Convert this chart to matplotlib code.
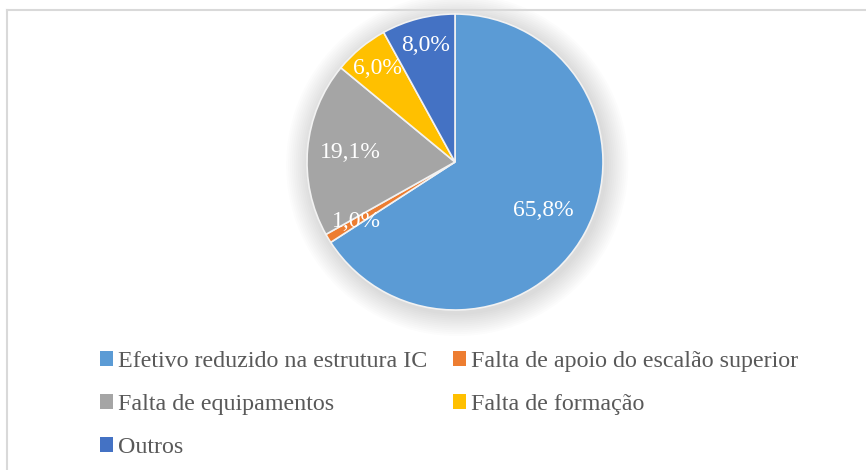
import numpy as np
import matplotlib.pyplot as plt
from matplotlib.patches import Circle
from matplotlib.lines import Line2D

categories = ["Efetivo reduzido na estrutura IC", "Falta de apoio do escalão superior",
              "Falta de equipamentos", "Falta de formação", "Outros"]
values = [65.8, 1.0, 19.1, 6.0, 8.0]
colors = ["#5B9BD5", "#ED7D31", "#A5A5A5", "#FFC000", "#4472C4"]
# how far from the centre each percentage label sits (fraction of radius)
label_dist = [0.68, 0.78, 0.71, 0.82, 0.81]

plt.rcParams['font.family'] = ['Liberation Serif', 'DejaVu Serif']

W, H = 866, 470
fig = plt.figure(figsize=(W / 100, H / 100), dpi=100)

# pie centre / radius in pixels
cx, cy, r = 455, 162, 148
lim = 1.35
size = r * lim
ax = fig.add_axes([(cx - size) / W, (H - cy - size) / H, 2 * size / W, 2 * size / H])

# soft shadow behind the pie
for k in range(12):
    ax.add_patch(Circle((0.015, -0.02), 1.0 + 0.013 * (12 - k), color="black",
                        alpha=0.013, lw=0, zorder=0))

wedges, texts = ax.pie(values, colors=colors, startangle=90, counterclock=False,
                       wedgeprops=dict(edgecolor="#F2F2F2", linewidth=1.2))
for w in wedges:
    w.set_zorder(2)

for w, v, d in zip(wedges, values, label_dist):
    mid = np.deg2rad((w.theta1 + w.theta2) / 2)
    ax.text(d * np.cos(mid), d * np.sin(mid), f"{v:.1f}%".replace(".", ","),
            ha="center", va="center", color="white", fontsize=17, zorder=3)

ax.set_xlim(-lim, lim)
ax.set_ylim(-lim, lim)
ax.set_aspect("equal")
ax.axis("off")

# chart frame (only top and left visible in the crop)
fig.add_artist(Line2D([7.5 / W, 7.5 / W], [0, 1 - 10 / H], color="#D9D9D9", lw=1.5,
                      transform=fig.transFigure))
fig.add_artist(Line2D([7.5 / W, 1], [1 - 10 / H, 1 - 10 / H], color="#D9D9D9", lw=1.5,
                      transform=fig.transFigure))

# legend fills row by row in the reference, matplotlib fills columns
order = [0, 2, 4, 1, 3]
leg = fig.legend([wedges[i] for i in order], [categories[i] for i in order],
                 ncol=2, loc="upper left", bbox_to_anchor=(100 / W, 1 - 351 / H),
                 frameon=False, borderpad=0, borderaxespad=0,
                 fontsize=17.3, handlelength=0.55, handleheight=0.55, handletextpad=0.2,
                 labelspacing=0.92, columnspacing=1.05, labelcolor="#595959")
for h in leg.legend_handles:
    h.set_edgecolor("none")

fig.savefig("out.png", dpi=100, facecolor="white")
